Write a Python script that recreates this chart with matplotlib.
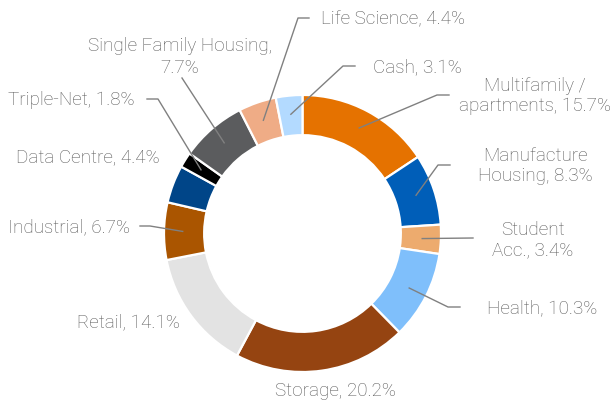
import numpy as np
import matplotlib.pyplot as plt

# data, clockwise from 12 o'clock
sectors = ["Multifamily /\napartments", "Manufacture\nHousing", "Student\nAcc.", "Health",
           "Storage", "Retail", "Industrial", "Data Centre", "Triple-Net",
           "Single Family Housing,\n", "Life Science", "Cash"]
shares = [15.7, 8.3, 3.4, 10.3, 20.2, 14.1, 6.7, 4.4, 1.8, 7.7, 4.4, 3.1]
colors = ["#E57200", "#005EB8", "#EDAB6E", "#7FBFFB", "#954411", "#E3E3E3",
          "#AA5500", "#004588", "#000000", "#5B5C5E", "#EFAC86", "#B3DAFF"]

# label layout in pixels: (text x, text y, ha, leader points or None)
W, H = 611, 401
CX, CY, R = 302.5, 233.5, 138.5
layout = [
    (535, 96, "center", [(437, 95), (449, 95)]),
    (535, 166, "center", [(438, 165), (450, 165)]),
    (533, 240, "center", [(473, 238)]),
    (487, 308, "left", [(448, 307), (460, 307)]),
    (335, 391, "center", None),
    (180, 322, "right", None),
    (130, 227, "right", [(150, 226), (140, 226)]),
    (160, 157, "right", None),
    (135, 100, "right", [(158, 99), (147, 99)]),
    (180, 57, "center", [(182, 78)]),
    (321, 19, "left", [(298, 18), (309, 18)]),
    (373, 67, "left", [(343, 66), (355, 66)]),
]


def px(x, y):
    return (x - CX) / R, (CY - y) / R


plt.rcParams['font.family'] = ['Roboto', 'DejaVu Sans']
fig = plt.figure(figsize=(W / 100, H / 100), dpi=100)
ax = fig.add_axes([0, 0, 1, 1])

wedges, _ = ax.pie(shares, colors=colors, startangle=90, counterclock=False,
                   radius=1, wedgeprops=dict(width=0.29, edgecolor="white", linewidth=1.6))

ax.set_xlim(-CX / R, (W - CX) / R)
ax.set_ylim((CY - H) / R, CY / R)
ax.set_aspect("auto")
ax.axis("off")

total = sum(shares)
start = 0
for name, val, (tx, ty, ha, pts) in zip(sectors, shares, layout):
    mid = (start + val / 2) / total * 2 * np.pi
    start += val
    if name.endswith(",\n"):
        txt = name + "%.1f%%" % val
        ls = 1.3
    else:
        txt = name + ", %.1f%%" % val
        ls = 1.17
    x, y = px(tx, ty)
    ax.text(x, y, txt, ha=ha, va="center", fontsize=13.6, color="#595959",
            fontweight="light", linespacing=ls)
    if pts:
        r0 = 0.865
        xs = [r0 * np.sin(mid)] + [px(*p)[0] for p in pts]
        ys = [r0 * np.cos(mid)] + [px(*p)[1] for p in pts]
        ax.plot(xs, ys, color="#808080", lw=1.0)

fig.savefig("out.png", dpi=100)
